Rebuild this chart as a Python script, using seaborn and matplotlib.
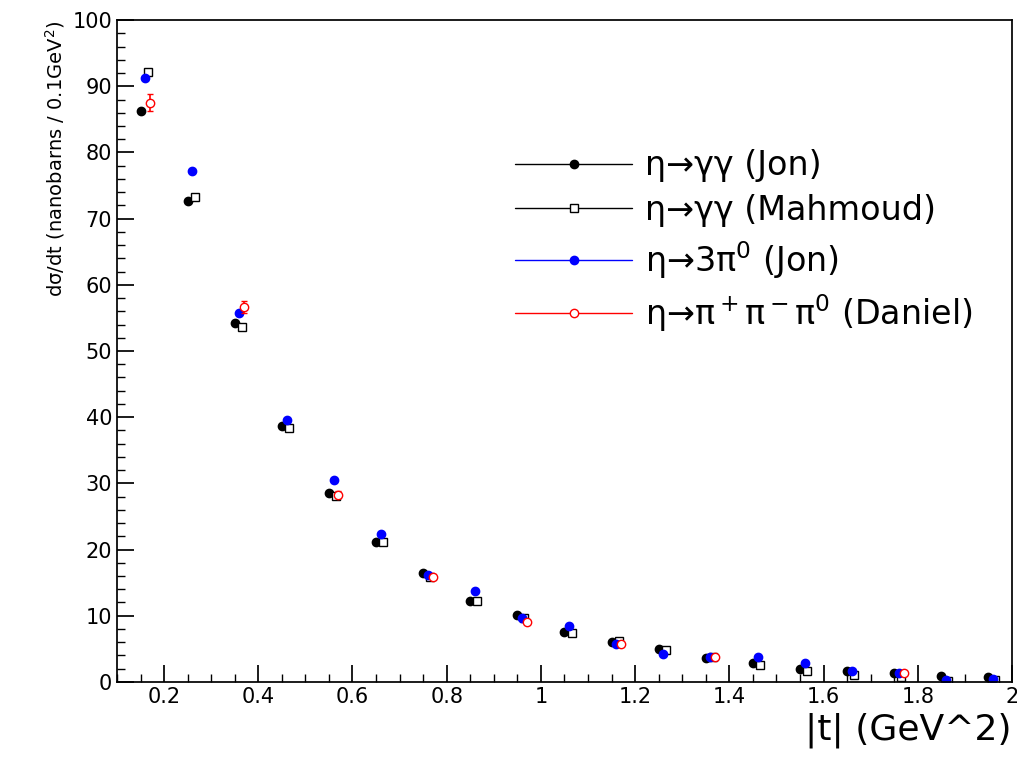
import numpy as np
import matplotlib
matplotlib.use("Agg")
import matplotlib.pyplot as plt
import seaborn as sns
from matplotlib.lines import Line2D

t_bins = [0.15, 0.25, 0.35, 0.45, 0.55, 0.65, 0.75, 0.85, 0.95, 1.05,
          1.15, 1.25, 1.35, 1.45, 1.55, 1.65, 1.75, 1.85, 1.95]
jon_gg = [86.3, 72.7, 54.2, 38.6, 28.5, 21.2, 16.5, 12.2, 10.1, 7.5,
          6.0, 4.9, 3.6, 2.9, 2.0, 1.6, 1.4, 0.9, 0.7]
mahmoud_gg = [92.2, 73.3, 53.7, 38.3, 28.1, 21.1, 15.9, 12.2, 9.6, 7.4,
              6.2, 4.8, 3.7, 2.6, 1.6, 1.0, 0.7, 0.2, 0.3]
jon_3pi = [91.3, 77.2, 55.7, 39.5, 30.5, 22.4, 16.1, 13.8, 9.6, 8.5,
           5.8, 4.2, 3.8, 3.8, 2.8, 1.7, 1.4, 0.3, 0.4]
daniel_t = [0.15, 0.35, 0.55, 0.75, 0.95, 1.15, 1.35, 1.75]
daniel = [87.5, 56.7, 28.3, 15.9, 9.0, 5.8, 3.8, 1.3]
daniel_err = [1.3, 0.9, 0.5, 0.4, 0.3, 0.2, 0.2, 0.1]

sns.set_theme(style="ticks")
plt.rcParams['font.family'] = ['DejaVu Sans']
plt.rcParams['mathtext.default'] = 'regular'
for k in ['text.color', 'axes.labelcolor', 'xtick.color', 'ytick.color', 'axes.edgecolor']:
    plt.rcParams[k] = 'black'

fig = plt.figure(figsize=(10.17, 7.74), dpi=100)
ax = fig.add_axes([0.115, 0.119, 0.88, 0.855])

t = np.array(t_bins)
ax.plot(t, jon_gg, 'o', color='black', ms=6)
ax.plot(t + 0.015, mahmoud_gg, 's', mfc='white', mec='black', ms=6)
ax.plot(t + 0.01, jon_3pi, 'o', color='blue', ms=6)
ax.errorbar(np.array(daniel_t) + 0.02, daniel, yerr=daniel_err, fmt='o', mfc='white', mec='red',
            ecolor='red', ms=6, capsize=2, elinewidth=1.2)

ax.set_xlim(0.1, 2.0)
ax.set_ylim(0, 100)
ax.set_xticks([0.2, 0.4, 0.6, 0.8, 1.0, 1.2, 1.4, 1.6, 1.8, 2.0])
ax.set_xticklabels(['0.2', '0.4', '0.6', '0.8', '1', '1.2', '1.4', '1.6', '1.8', '2'])
ax.set_yticks(range(0, 101, 10))
ax.set_xticks(np.arange(0.1, 2.0, 0.05), minor=True)
ax.set_yticks(np.arange(0, 100, 2), minor=True)
ax.tick_params(direction='in', which='both', labelsize=15, top=False, right=False)
ax.tick_params(which='major', length=12)
ax.tick_params(which='minor', length=6)

ax.set_xlabel('|t| (GeV^2)', fontsize=26, loc='right')
ax.set_ylabel('dσ/dt (nanobarns / 0.1GeV$^2$)', fontsize=14, loc='top')

labels = ['η→γγ (Jon)', 'η→γγ (Mahmoud)', 'η→3π$^0$ (Jon)', 'η→π$^+$π$^-$π$^0$ (Daniel)']
hl = [Line2D([], [], color='black', lw=1, marker='o', ms=6),
      Line2D([], [], color='black', lw=1, marker='s', mfc='white', ms=6),
      Line2D([], [], color='blue', lw=1, marker='o', ms=6),
      Line2D([], [], color='red', lw=1, marker='o', mfc='white', ms=6)]
ax.legend(hl, labels, loc='upper right', bbox_to_anchor=(0.99, 0.85), frameon=False,
          fontsize=24, handlelength=3.5, labelspacing=0.35, handletextpad=0.4)

fig.savefig('out.png', dpi=100)
